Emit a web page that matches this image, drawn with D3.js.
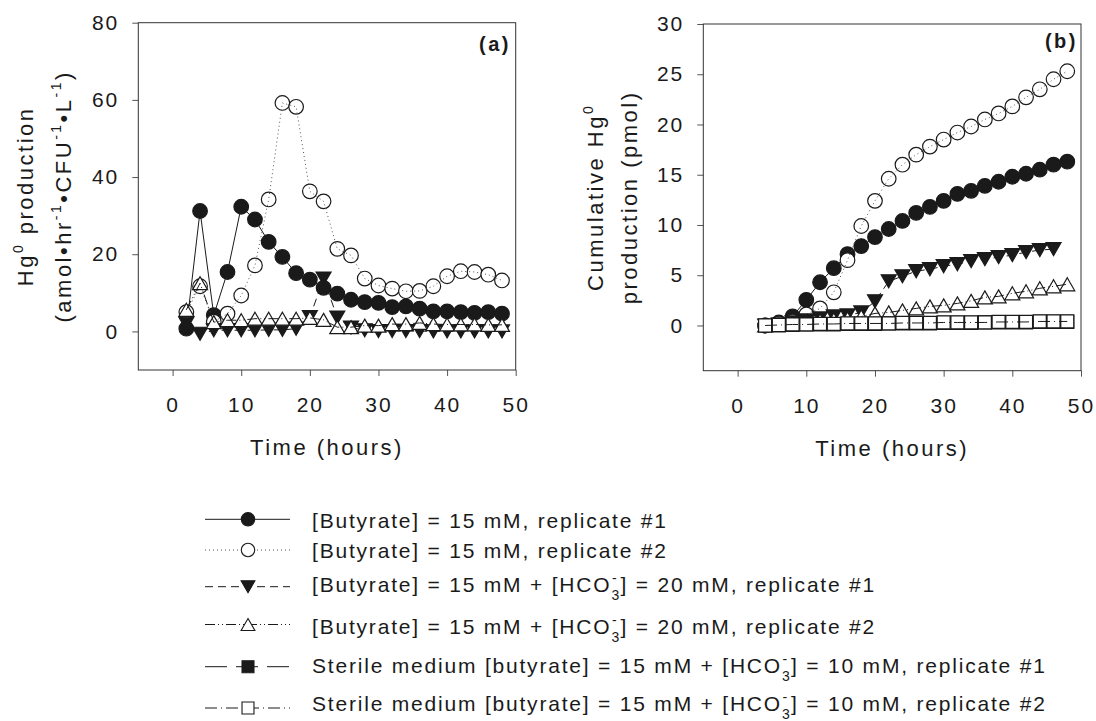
<!DOCTYPE html>
<html>
<head>
<meta charset="utf-8">
<script src="https://cdn.jsdelivr.net/npm/d3@7/dist/d3.min.js"></script>
<style>
body{margin:0;background:#fff}
svg{display:block;font-family:"Liberation Sans",Arial,sans-serif}
</style>
</head>
<body>
<svg id="chart" width="1096" height="721"></svg>
<script>
// ---- data ----
const xTicks=[0,10,20,30,40,50];
const yTicksA=[0,20,40,60,80];
const yTicksB=[0,5,10,15,20,25,30];

// (a) Hg0 production rate
const hoursA=[2,4,6,8,10,12,14,16,18,20,22,24,26,28,30,32,34,36,38,40,42,44,46,48];
const rateRep1=[0.7,31.2,4.2,15.4,32.3,29.0,23.2,19.3,15.1,13.4,11.3,9.8,8.2,7.6,7.4,6.3,6.5,5.9,5.2,5.2,5.0,4.8,5.0,4.6];
const rateRep2=[5.0,11.7,2.5,4.6,9.3,17.1,34.2,59.2,58.2,36.3,33.7,21.4,19.7,13.7,11.9,11.1,10.4,10.5,11.7,14.3,15.6,15.4,14.7,13.2];
const rateHco3Rep1=[2.0,-0.6,0.3,0.3,0.3,0.3,0.4,0.4,0.7,3.7,13.7,3.6,1.0,0.3,0.1,0.1,0.1,0.1,0.0,0.0,0.0,0.0,0.0,0.0];
const rateHco3Rep2=[5.6,12.5,2.4,2.9,2.9,3.3,3.3,3.3,3.3,3.5,3.0,1.1,1.1,1.5,1.5,1.9,1.9,2.2,1.9,1.8,1.8,1.8,1.7,1.7];

// (b) cumulative Hg0
const hoursB=[4,6,8,10,12,14,16,18,20,22,24,26,28,30,32,34,36,38,40,42,44,46,48];
const cumRep1=[0,0.3,0.9,2.55,4.3,5.7,7.1,7.9,8.8,9.6,10.4,11.2,11.8,12.4,13.1,13.4,13.9,14.3,14.8,15.1,15.5,16.0,16.3];
const cumRep2=[0,0.2,0.4,1.1,1.7,3.3,6.5,9.9,12.4,14.6,16.0,17.0,17.8,18.5,19.2,19.8,20.5,21.1,21.8,22.7,23.5,24.5,25.3];
const cumHco3Rep1=[0,0.1,0.3,0.5,0.7,0.9,1.0,1.3,2.4,4.4,4.9,5.4,5.6,5.9,6.1,6.4,6.6,6.8,7.0,7.3,7.5,7.6];
const cumHco3Rep2=[0,0.1,0.2,0.3,0.5,0.6,0.7,0.9,1.2,1.3,1.5,1.7,1.9,2.0,2.2,2.45,2.8,2.9,3.2,3.4,3.7,3.9,4.1];
const cumSterileRep1=[0,0,0.05,0.1,0.1,0.1,0.15,0.15,0.15,0.2,0.2,0.2,0.2,0.25,0.25,0.25,0.3,0.3,0.3,0.3,0.35,0.35,0.35];
const cumSterileRep2=[0,0.05,0.1,0.1,0.15,0.15,0.2,0.2,0.2,0.2,0.25,0.25,0.25,0.3,0.3,0.3,0.3,0.35,0.35,0.35,0.4,0.4,0.4];

const legendLabels=[
  "[Butyrate] = 15 mM, replicate #1",
  "[Butyrate] = 15 mM, replicate #2",
  "[Butyrate] = 15 mM + [HCO3-] = 20 mM, replicate #1",
  "[Butyrate] = 15 mM + [HCO3-] = 20 mM, replicate #2",
  "Sterile medium [butyrate] = 15 mM + [HCO3-] = 10 mM, replicate #1",
  "Sterile medium [butyrate] = 15 mM + [HCO3-] = 10 mM, replicate #2"
];

// ---- styles ----
const ink="#1a1a1a";
const styles=[
  {marker:"circle",filled:true, dash:null,               stroke:ink},
  {marker:"circle",filled:false,dash:"1,3",              stroke:"#555"},
  {marker:"down",  filled:true, dash:"8,5",              stroke:ink},
  {marker:"up",    filled:false,dash:"10,3,1,3,1,3",     stroke:ink},
  {marker:"square",filled:true, dash:"22,9",             stroke:ink},
  {marker:"square",filled:false,dash:"12,4,1,4",         stroke:ink}
];

function shape(type){
  const r=7.3,w=15,h=13,s=13;
  if(type==="circle") return `M${r},0A${r},${r} 0 1,1 ${-r},0A${r},${r} 0 1,1 ${r},0Z`;
  if(type==="up") return `M0,${-h/2}L${w/2},${h/2}L${-w/2},${h/2}Z`;
  if(type==="down") return `M0,${h/2}L${w/2},${-h/2}L${-w/2},${-h/2}Z`;
  return `M${-s/2},${-s/2}h${s}v${s}h${-s}Z`;
}

function rich(sel,parts){
  let cur=0;
  parts.forEach(p=>{
    const shift=p.shift||0;
    const t=sel.append("tspan").text(p.t).attr("dy",shift-cur);
    if(p.small) t.attr("font-size",p.small);
    if(p.dx) t.attr("dx",p.dx);
    cur=shift;
  });
}

const svg=d3.select("#chart");
svg.append("rect").attr("width",1096).attr("height",721).attr("fill","#fff");

function drawPanel(o){
  const x=d3.scaleLinear().domain([-5,50]).range([o.left,o.right]);
  const y=d3.scaleLinear().domain(o.yDomain).range([o.bottom,o.top]);
  const g=svg.append("g");

  const xa=g.append("g").attr("transform",`translate(0,${o.bottom})`)
    .call(d3.axisBottom(x).tickValues(xTicks).tickSize(6).tickPadding(21));
  const ya=g.append("g").attr("transform",`translate(${o.left},0)`)
    .call(d3.axisLeft(y).tickValues(o.yTicks).tickSize(6).tickPadding(13));
  [xa,ya].forEach(a=>{
    a.select(".domain").remove();
    a.selectAll("line").attr("stroke","#555");
    a.selectAll("text").attr("font-size",21).attr("letter-spacing",2).attr("fill",ink)
      .attr("font-family","Liberation Sans, Arial, sans-serif");
  });

  g.append("rect").attr("x",o.left).attr("y",o.top)
    .attr("width",o.right-o.left).attr("height",o.bottom-o.top)
    .attr("fill","none").attr("stroke","#333").attr("stroke-width",1);

  const line=d3.line().x(d=>x(d.h)).y(d=>y(d.v));
  o.series.forEach((vals,i)=>{
    const st=styles[i];
    const pts=vals.map((v,k)=>({h:o.hours[k],v}));
    const sg=g.append("g");
    sg.selectAll("path.mk").data(pts).join("path").attr("class","mk")
      .attr("d",shape(st.marker))
      .attr("transform",d=>`translate(${x(d.h)},${y(d.v)})`)
      .attr("fill",st.filled?ink:"#fff")
      .attr("stroke",ink).attr("stroke-width",1.2);
    sg.append("path").datum(pts).attr("d",line)
      .attr("fill","none").attr("stroke",st.stroke).attr("stroke-width",1)
      .attr("stroke-dasharray",st.dash);
  });

  g.append("text").attr("x",o.tagX).attr("y",o.tagY).attr("text-anchor","end")
    .attr("font-size",20).attr("font-weight","bold").attr("letter-spacing",2.5)
    .attr("fill",ink).text(o.tag);

  g.append("text").attr("x",(o.left+o.right)/2).attr("y",o.bottom+85)
    .attr("text-anchor","middle").attr("font-size",22).attr("letter-spacing",2.5)
    .attr("fill",ink).text("Time (hours)");

  const cy=(o.top+o.bottom)/2;
  o.yTitle.forEach((parts,k)=>{
    const t=g.append("text")
      .attr("transform",`translate(${o.titleX[k]},${cy}) rotate(-90)`)
      .attr("text-anchor","middle").attr("font-size",22).attr("letter-spacing",2.5)
      .attr("fill",ink);
    rich(t,parts);
  });
}

drawPanel({
  left:138.3,right:515.7,top:22.7,bottom:370,
  yDomain:[-10,80],yTicks:yTicksA,hours:hoursA,
  series:[rateRep1,rateRep2,rateHco3Rep1,rateHco3Rep2],
  tag:"(a)",tagX:511,tagY:51,
  titleX:[33,71],
  yTitle:[
    [{t:"Hg"},{t:"0",shift:-10,small:14},{t:" production"}],
    [{t:"(amol•hr"},{t:"-1",shift:-10,small:14},{t:"•CFU"},{t:"-1",shift:-10,small:14},
     {t:"•L"},{t:"-1",shift:-10,small:14},{t:")"}]
  ]
});

drawPanel({
  left:703.3,right:1081,top:24,bottom:370.7,
  yDomain:[-4.5,30],yTicks:yTicksB,hours:hoursB,
  series:[cumRep1,cumRep2,cumHco3Rep1,cumHco3Rep2,cumSterileRep1,cumSterileRep2],
  tag:"(b)",tagX:1078,tagY:48,
  titleX:[603,637],
  yTitle:[
    [{t:"Cumulative Hg"},{t:"0",shift:-10,small:14}],
    [{t:"production (pmol)"}]
  ]
});

// ---- legend ----
const markerY=[519.3,550,586.7,624.5,666.7,708];
const textY=[528.3,557.7,591.7,634,672.7,711];
const lg=svg.append("g");
legendLabels.forEach((lab,i)=>{
  const st=styles[i];
  lg.append("line").attr("x1",205).attr("x2",290).attr("y1",markerY[i]).attr("y2",markerY[i])
    .attr("stroke",st.stroke).attr("stroke-width",1).attr("stroke-dasharray",st.dash);
  lg.append("path").attr("d",shape(st.marker))
    .attr("transform",`translate(248,${markerY[i]}) scale(0.92)`)
    .attr("fill",st.filled?ink:"#fff").attr("stroke",ink).attr("stroke-width",1.2);
  const t=lg.append("text").attr("x",312).attr("y",textY[i])
    .attr("font-size",21).attr("letter-spacing",1.8).attr("fill",ink);
  const idx=lab.indexOf("HCO3-");
  if(idx<0){
    t.text(lab);
  }else{
    rich(t,[
      {t:lab.slice(0,idx)+"HCO"},
      {t:"3",shift:8,small:14},
      {t:"-",shift:-9,small:14,dx:-9},
      {t:lab.slice(idx+5),dx:2}
    ]);
  }
});
</script>
</body>
</html>
